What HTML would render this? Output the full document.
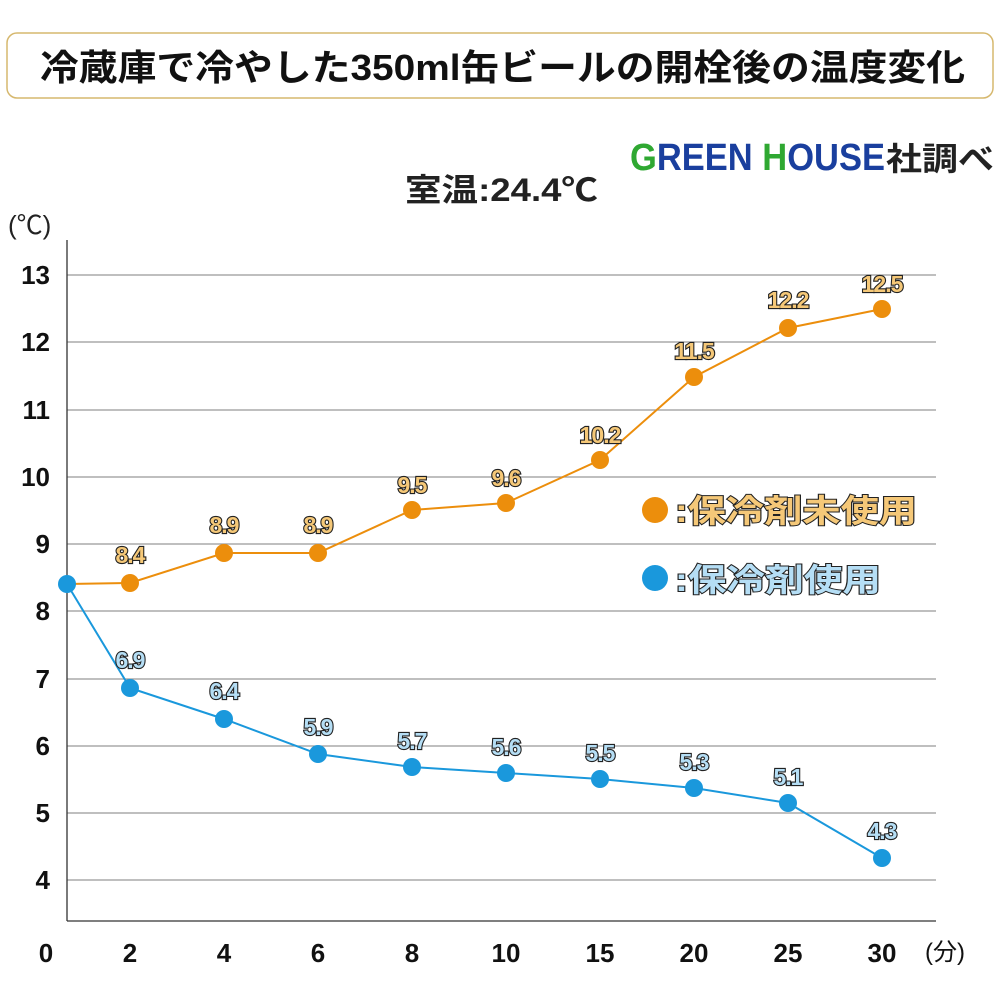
<!DOCTYPE html>
<html><head><meta charset="utf-8"><style>html,body{margin:0;padding:0;background:#fff}svg{display:block}</style></head>
<body>
<svg width="1000" height="1000" viewBox="0 0 1000 1000" xmlns="http://www.w3.org/2000/svg" font-family="'Liberation Sans','Noto Sans CJK JP',sans-serif">
<rect x="7" y="33" width="986" height="65" rx="10" fill="#fff" stroke="#d6b86e" stroke-width="1.5"/>
<text x="40" y="80" font-size="36" font-weight="bold" textLength="925" lengthAdjust="spacingAndGlyphs" fill="#111">冷蔵庫で冷やした350ml缶ビールの開栓後の温度変化</text>
<text x="630" y="170" font-size="38" font-weight="bold" textLength="255" lengthAdjust="spacingAndGlyphs"><tspan fill="#2fa832">G</tspan><tspan fill="#1a3f9e">REEN </tspan><tspan fill="#2fa832">H</tspan><tspan fill="#1a3f9e">OUSE</tspan></text>
<text x="886" y="170" font-size="32" font-weight="bold" fill="#222" textLength="108" lengthAdjust="spacingAndGlyphs">社調べ</text>
<text x="405" y="201" font-size="32" font-weight="bold" fill="#222" textLength="193" lengthAdjust="spacingAndGlyphs">室温:24.4℃</text>
<text x="8" y="234" font-size="26" fill="#222">(℃)</text>
<g stroke="#999" stroke-width="1.2">
<line x1="67" x2="936" y1="275" y2="275"/><line x1="67" x2="936" y1="342" y2="342"/><line x1="67" x2="936" y1="410" y2="410"/><line x1="67" x2="936" y1="477" y2="477"/><line x1="67" x2="936" y1="544" y2="544"/><line x1="67" x2="936" y1="611" y2="611"/><line x1="67" x2="936" y1="679" y2="679"/><line x1="67" x2="936" y1="746" y2="746"/><line x1="67" x2="936" y1="813" y2="813"/><line x1="67" x2="936" y1="880" y2="880"/>
</g>
<g stroke="#333" stroke-width="1.3"><line x1="67" y1="240" x2="67" y2="921"/><line x1="67" y1="921" x2="936" y2="921"/></g>
<g font-size="26" font-weight="bold" fill="#111" text-anchor="end">
<text x="50" y="284">13</text><text x="50" y="351">12</text><text x="50" y="419">11</text><text x="50" y="486">10</text><text x="50" y="553">9</text><text x="50" y="620">8</text><text x="50" y="688">7</text><text x="50" y="755">6</text><text x="50" y="822">5</text><text x="50" y="889">4</text>
</g>
<g font-size="26" font-weight="bold" fill="#111" text-anchor="middle">
<text x="46" y="962">0</text><text x="130" y="962">2</text><text x="224" y="962">4</text><text x="318" y="962">6</text><text x="412" y="962">8</text><text x="506" y="962">10</text><text x="600" y="962">15</text><text x="694" y="962">20</text><text x="788" y="962">25</text><text x="882" y="962">30</text>
</g>
<text x="925" y="960" font-size="24" fill="#111">(分)</text>
<polyline fill="none" stroke="#ec8e0c" stroke-width="2" points="67,584 130,583 224,553 318,553 412,510 506,503 600,460 694,377 788,328 882,309"/>
<polyline fill="none" stroke="#1a98dc" stroke-width="2" points="67,584 130,688 224,719 318,754 412,767 506,773 600,779 694,788 788,803 882,858"/>
<g fill="#ec8e0c"><circle cx="130" cy="583" r="9"/><circle cx="224" cy="553" r="9"/><circle cx="318" cy="553" r="9"/><circle cx="412" cy="510" r="9"/><circle cx="506" cy="503" r="9"/><circle cx="600" cy="460" r="9"/><circle cx="694" cy="377" r="9"/><circle cx="788" cy="328" r="9"/><circle cx="882" cy="309" r="9"/><circle cx="655" cy="510" r="13"/></g>
<g fill="#1a98dc"><circle cx="67" cy="584" r="9"/><circle cx="130" cy="688" r="9"/><circle cx="224" cy="719" r="9"/><circle cx="318" cy="754" r="9"/><circle cx="412" cy="767" r="9"/><circle cx="506" cy="773" r="9"/><circle cx="600" cy="779" r="9"/><circle cx="694" cy="788" r="9"/><circle cx="788" cy="803" r="9"/><circle cx="882" cy="858" r="9"/><circle cx="655" cy="578" r="13"/></g>
<g font-size="23" font-weight="bold" text-anchor="middle" stroke="#222" stroke-width="2.2" paint-order="stroke" letter-spacing="-1">
<g fill="#f5c878">
<text x="130" y="563">8.4</text><text x="224" y="533">8.9</text><text x="318" y="533">8.9</text><text x="412" y="493">9.5</text><text x="506" y="486">9.6</text><text x="600" y="443">10.2</text><text x="694" y="359">11.5</text><text x="788" y="308">12.2</text><text x="882" y="292">12.5</text>
</g>
<g fill="#b5def5">
<text x="130" y="668">6.9</text><text x="224" y="699">6.4</text><text x="318" y="735">5.9</text><text x="412" y="749">5.7</text><text x="506" y="755">5.6</text><text x="600" y="761">5.5</text><text x="694" y="770">5.3</text><text x="788" y="785">5.1</text><text x="882" y="839">4.3</text>
</g>
</g>
<g font-size="32" font-weight="bold" stroke="#222" stroke-width="2" paint-order="stroke">
<text x="675" y="522" fill="#f5c878" textLength="242" lengthAdjust="spacingAndGlyphs">:保冷剤未使用</text>
<text x="675" y="591" fill="#b5def5" textLength="206" lengthAdjust="spacingAndGlyphs">:保冷剤使用</text>
</g>
</svg>
</body></html>
